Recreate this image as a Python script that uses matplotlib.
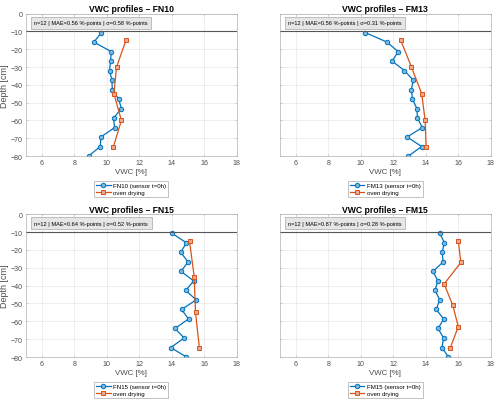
import numpy as np
import matplotlib
matplotlib.use("Agg")
import matplotlib.pyplot as plt

# sensor depths (14 readings) and oven drying depths
sensor_depth = [-10.67, -16, -21.33, -26.67, -32, -37.33, -42.67, -48,
                -53.33, -58.67, -64, -69.33, -74.67, -80]

fn10_sensor = [9.66, 9.21, 10.28, 10.23, 10.17, 10.32, 10.34, 10.73, 10.9, 10.42, 10.48, 9.64, 9.6, 8.88]
fn10_oven_depth = [-15, -30, -45, -60, -75]
fn10_oven = [11.18, 10.6, 10.44, 10.9, 10.4]

fm13_sensor = [10.29, 11.62, 12.3, 11.93, 12.69, 13.22, 13.12, 13.18, 13.45, 13.49, 13.78, 12.85, 13.75, 12.93]
fm13_oven_depth = [-15, -30, -45, -60, -75]
fm13_oven = [12.46, 13.12, 13.75, 13.96, 14.02]

fn15_sensor = [14.02, 14.9, 14.55, 15.0, 14.57, 15.35, 14.86, 15.5, 14.6, 15.03, 14.2, 14.76, 13.94, 14.9]
fn15_oven_depth = [-15, -35, -55, -75]
fn15_oven = [15.09, 15.38, 15.46, 15.7]

fm15_sensor = [14.86, 15.15, 15.0, 15.07, 14.45, 14.74, 14.57, 14.86, 14.64, 15.1, 14.76, 15.09, 15.0, 15.39]
fm15_oven_depth = [-15, -27, -39, -51, -63, -75]
fm15_oven = [16.0, 16.16, 15.13, 15.66, 16.0, 15.5]

names = ["FN10", "FM13", "FN15", "FM15"]
sensors = [fn10_sensor, fm13_sensor, fn15_sensor, fm15_sensor]
oven_depths = [fn10_oven_depth, fm13_oven_depth, fn15_oven_depth, fm15_oven_depth]
ovens = [fn10_oven, fm13_oven, fn15_oven, fm15_oven]
stats = ["n=12 | MAE=0.56 %-points | σ=0.58 %-points",
         "n=12 | MAE=0.56 %-points | σ=0.31 %-points",
         "n=12 | MAE=0.64 %-points | σ=0.52 %-points",
         "n=12 | MAE=0.87 %-points | σ=0.28 %-points"]

blue = "#0072BD"
orange = "#D95319"
tick_col = "#4d4d4d"

plt.rcParams['font.family'] = ['Liberation Sans', 'DejaVu Sans']

fig = plt.figure(figsize=(5.0, 4.06), dpi=100)
positions = [[0.051, 0.6133, 0.4226, 0.3505],
             [0.559, 0.6133, 0.4226, 0.3505],
             [0.051, 0.1182, 0.4226, 0.3515],
             [0.559, 0.1182, 0.4226, 0.3515]]

for i in range(4):
    ax = fig.add_axes(positions[i])
    ax.plot(sensors[i], sensor_depth, '-o', color=blue, lw=0.9, ms=3.2,
            mfc="#7fb8de", mec=blue, mew=0.7, label=names[i] + " (sensor t=0h)")
    ax.plot(ovens[i], oven_depths[i], '-s', color=orange, lw=0.9, ms=3.0,
            mfc="#eca98c", mec=orange, mew=0.7, label="oven drying")
    ax.axhline(-10, color="#555555", lw=0.8)
    ax.set_xlim(5, 18)
    ax.set_ylim(-80, 0)
    ax.set_xticks(np.arange(6, 19, 2))
    ax.set_yticks(np.arange(-80, 1, 10))
    ax.grid(True, color="#e8e8e8", lw=0.5)
    ax.set_axisbelow(True)
    for s in ax.spines.values():
        s.set_color("#b0b0b0")
        s.set_linewidth(0.5)
    ax.tick_params(labelsize=5.1, colors="#b0b0b0", labelcolor=tick_col, length=1.5,
                   width=0.4, direction='in', top=True, right=True, pad=2.3)
    if i % 2 == 1:
        ax.set_yticklabels([])
    else:
        ax.set_ylabel("Depth [cm]", fontsize=6.5, color=tick_col, labelpad=1)
    ax.set_xlabel("VWC [%]", fontsize=5.7, color=tick_col, labelpad=1.5)
    ax.set_title("VWC profiles – " + names[i], fontsize=6.2, fontweight='bold', pad=2)
    ax.text(5.55, -5.0, stats[i], fontsize=4.1, va='center', ha='left',
            bbox=dict(boxstyle='square,pad=0.6', fc="#e6e6e6", ec="#a8a8a8", lw=0.5))
    leg = ax.legend(loc='upper center', bbox_to_anchor=(0.5, -0.173), fontsize=4.4,
                    fancybox=False, framealpha=1, edgecolor="#a8a8a8",
                    handlelength=2.4, borderpad=0.35, labelspacing=0.25, handletextpad=0.4,
                    borderaxespad=0)
    leg.get_frame().set_linewidth(0.5)

fig.savefig("out.png", dpi=100)
